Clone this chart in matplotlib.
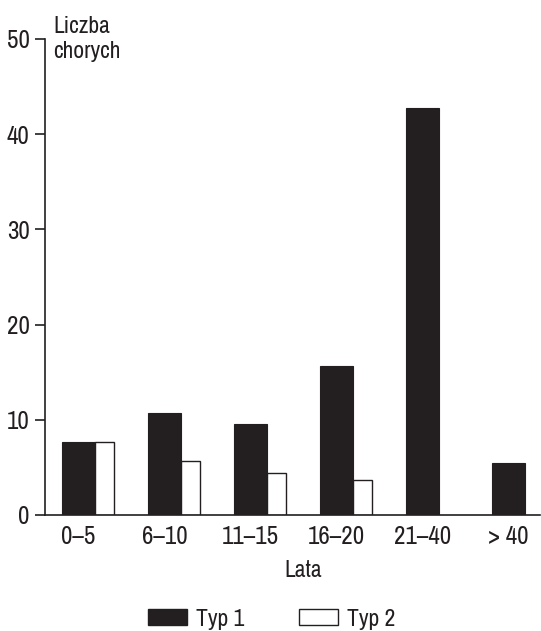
import matplotlib
matplotlib.use("Agg")
import matplotlib.pyplot as plt
import numpy as np
from matplotlib.patches import Patch

categories = ["0–5", "6–10", "11–15", "16–20", "21–40", "> 40"]
typ1 = [7.7, 10.7, 9.6, 15.7, 42.7, 5.5]
typ2 = [7.7, 5.7, 4.4, 3.7, 0, 0]
yticks = [0, 10, 20, 30, 40, 50]

plt.rcParams['font.family'] = ['Archivo Narrow', 'DejaVu Sans']
ink = '#231f20'

fig = plt.figure(figsize=(5.41, 6.31), dpi=100)
ax = fig.add_axes([45/541, 1-515/631, (540-45)/541, (515-39)/631])

x = np.arange(len(categories))
w1 = 0.384
w2 = 0.22
ax.bar(x, typ1, width=w1, color=ink, edgecolor=ink, linewidth=0.8)
for xi, v in zip(x, typ2):
    if v > 0:
        ax.bar(xi + w1/2, v, width=w2, align='edge', color='white', edgecolor=ink, linewidth=1.0)

ax.set_xlim(-0.39, 5.37)
ax.set_ylim(0, 50)
ax.set_yticks(yticks)
ax.set_xticks(x)
ax.set_xticklabels(categories)
for s in ['top', 'right']:
    ax.spines[s].set_visible(False)
for s in ['left', 'bottom']:
    ax.spines[s].set_color(ink)
    ax.spines[s].set_linewidth(1.2)
ax.tick_params(axis='y', length=7, width=1.2, color=ink, labelsize=18, pad=4, labelcolor=ink)
ax.tick_params(axis='x', length=0, labelsize=18, pad=7, labelcolor=ink)

fig.text(53/541, 1-33/631, "Liczba", fontsize=17, color=ink, va='baseline', ha='left')
fig.text(53/541, 1-58/631, "chorych", fontsize=17, color=ink, va='baseline', ha='left')
fig.text(303/541, 1-577/631, "Lata", fontsize=17, color=ink, va='baseline', ha='center')

handles = [Patch(facecolor=ink, edgecolor=ink, label="Typ 1"),
           Patch(facecolor='white', edgecolor=ink, linewidth=1.0, label="Typ 2")]
fig.legend(handles=handles, loc='center', bbox_to_anchor=(0.502, 1-619/631), ncol=2,
           frameon=False, fontsize=17, handlelength=1.65, handleheight=0.68,
           handletextpad=0.4, columnspacing=2.3, borderpad=0, labelcolor=ink)

fig.savefig("out.png", dpi=100)
